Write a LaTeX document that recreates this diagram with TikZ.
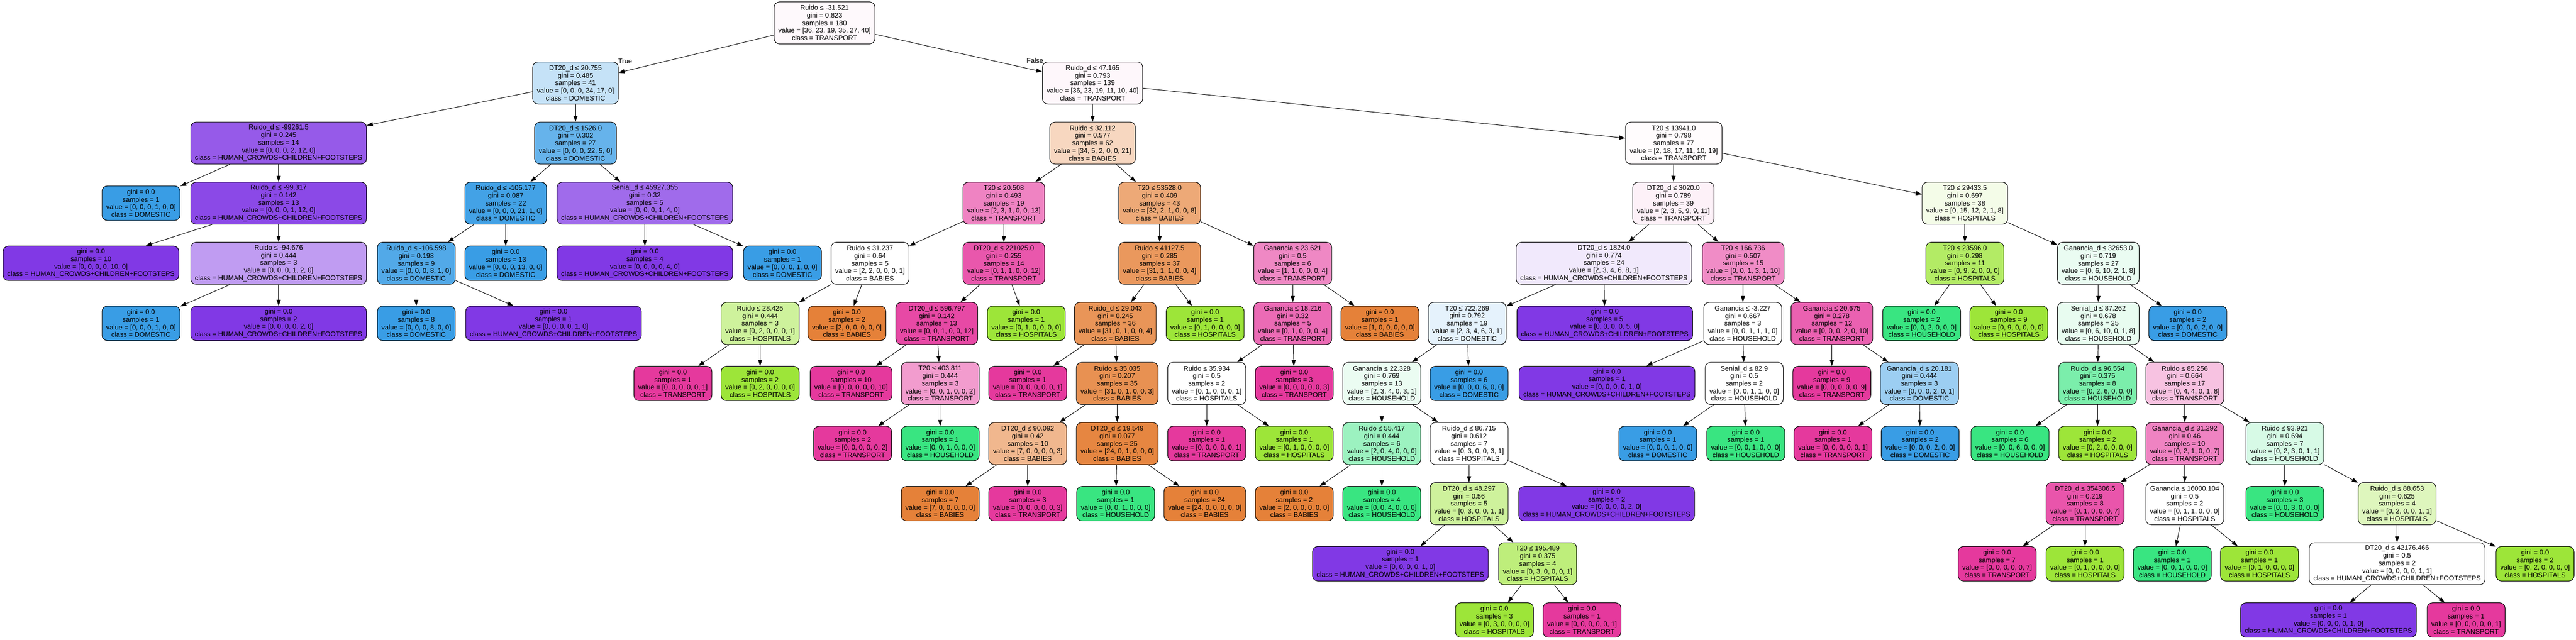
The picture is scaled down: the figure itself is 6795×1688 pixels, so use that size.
\documentclass[tikz,border=0pt]{standalone}
\usepackage{fontspec}
\setmainfont{Liberation Sans}
\usetikzlibrary{arrows.meta}
\definecolor{cBab}{HTML}{E58139}
\definecolor{cHos}{HTML}{9DE539}
\definecolor{cHou}{HTML}{39E581}
\definecolor{cDom}{HTML}{399DE5}
\definecolor{cHcf}{HTML}{8139E5}
\definecolor{cTra}{HTML}{E5399D}
\newcommand\clcBab{BABIES}
\newcommand\clcHos{HOSPITALS}
\newcommand\clcHou{HOUSEHOLD}
\newcommand\clcDom{DOMESTIC}
\newcommand\clcHcf{HUMAN\_CROWDS+CHILDREN+FOOTSTEPS}
\newcommand\clcTra{TRANSPORT}
\tikzset{
 tn/.style={draw=black, line width=1.4pt, rounded corners=14pt, align=center, inner xsep=11pt, inner ysep=0pt, minimum height=111pt, font=\fontsize{18}{20}\selectfont},
 lf/.style={minimum height=91pt},
 conn/.style={draw=black, line width=1.3pt, -{Triangle[length=16pt,width=11pt]}},
 lbl/.style={font=\fontsize{18}{20}\selectfont, inner sep=0pt}
}
\newcommand\inode[9]{\node[tn, fill=#8!#9!white] (#1) at (#2,#3) {#4\\gini = #5\\samples = #6\\value = [#7]\\class = \csname cl#8\endcsname};}
\newcommand\lnode[6]{\node[tn, lf, fill=#6] (#1) at (#2,#3) {gini = 0.0\\samples = #4\\value = [#5]\\class = \csname cl#6\endcsname};}
\begin{document}
\begin{tikzpicture}[x=1pt,y=-1pt]
\fill[white] (0,0) rectangle (6795,1688);
\useasboundingbox (0,0) rectangle (6795,1688);
% level 0
\inode{root}{2175}{60.5}{Ruido ≤ -31.521}{0.823}{180}{36, 23, 19, 35, 27, 40}{cTra}{2.8}
% level 1
\inode{A}{1518}{219.1}{DT20\_d ≤ 20.755}{0.485}{41}{0, 0, 0, 24, 17, 0}{cDom}{29.2}
\inode{B}{2882}{219.1}{Ruido\_d ≤ 47.165}{0.793}{139}{36, 23, 19, 11, 10, 40}{cTra}{3.9}
% level 2
\inode{A1}{735}{377.7}{Ruido\_d ≤ -99261.5}{0.245}{14}{0, 0, 0, 2, 12, 0}{cHcf}{83.3}
\inode{A2}{1518}{377.7}{DT20\_d ≤ 1526.0}{0.302}{27}{0, 0, 0, 22, 5, 0}{cDom}{77.3}
\inode{B1}{2882}{377.7}{Ruido ≤ 32.112}{0.577}{62}{34, 5, 2, 0, 0, 21}{cBab}{31.7}
\inode{B2}{4415}{377.7}{T20 ≤ 13941.0}{0.798}{77}{2, 18, 17, 11, 10, 19}{cTra}{1.7}
% level 3
\lnode{A1a}{372}{536.3}{1}{0, 0, 0, 1, 0, 0}{cDom}
\inode{A1b}{735}{536.3}{Ruido\_d ≤ -99.317}{0.142}{13}{0, 0, 0, 1, 12, 0}{cHcf}{91.7}
\inode{A2a}{1334}{536.3}{Ruido\_d ≤ -105.177}{0.087}{22}{0, 0, 0, 21, 1, 0}{cDom}{95.2}
\inode{A2b}{1701}{536.3}{Senial\_d ≤ 45927.355}{0.32}{5}{0, 0, 0, 1, 4, 0}{cHcf}{75}
\inode{B1a}{2648}{536.3}{T20 ≤ 20.508}{0.493}{19}{2, 3, 1, 0, 0, 13}{cTra}{62.5}
\inode{B1b}{3059}{536.3}{T20 ≤ 53528.0}{0.409}{43}{32, 2, 1, 0, 0, 8}{cBab}{68.6}
\inode{B2a}{4414}{536.3}{DT20\_d ≤ 3020.0}{0.789}{39}{2, 3, 5, 9, 9, 11}{cTra}{7.1}
\inode{B2b}{5183}{536.3}{T20 ≤ 29433.5}{0.697}{38}{0, 15, 12, 2, 1, 8}{cHos}{11.5}
% level 4
\lnode{n4a}{240}{694.9}{10}{0, 0, 0, 0, 10, 0}{cHcf}
\inode{n4b}{735}{694.9}{Ruido ≤ -94.676}{0.444}{3}{0, 0, 0, 1, 2, 0}{cHcf}{50}
\inode{n4c}{1098}{694.9}{Ruido\_d ≤ -106.598}{0.198}{9}{0, 0, 0, 8, 1, 0}{cDom}{87.5}
\lnode{n4d}{1334}{694.9}{13}{0, 0, 0, 13, 0, 0}{cDom}
\lnode{n4e}{1701}{694.9}{4}{0, 0, 0, 0, 4, 0}{cHcf}
\lnode{n4f}{2064}{694.9}{1}{0, 0, 0, 1, 0, 0}{cDom}
\inode{n4g}{2295}{694.9}{Ruido ≤ 31.237}{0.64}{5}{2, 2, 0, 0, 0, 1}{cBab}{0}
\inode{n4h}{2648}{694.9}{DT20\_d ≤ 221025.0}{0.255}{14}{0, 1, 1, 0, 0, 12}{cTra}{84.6}
\inode{n4i}{3059}{694.9}{Ruido ≤ 41127.5}{0.285}{37}{31, 1, 1, 0, 0, 4}{cBab}{81.8}
\inode{n4j}{3410}{694.9}{Ganancia ≤ 23.621}{0.5}{6}{1, 1, 0, 0, 0, 4}{cTra}{60}
\inode{n4k}{4231}{694.9}{DT20\_d ≤ 1824.0}{0.774}{24}{2, 3, 4, 6, 8, 1}{cHcf}{11.1}
\inode{n4l}{4598}{694.9}{T20 ≤ 166.736}{0.507}{15}{0, 0, 1, 3, 1, 10}{cTra}{58.3}
\inode{n4m}{5183}{694.9}{T20 ≤ 23596.0}{0.298}{11}{0, 9, 2, 0, 0, 0}{cHos}{77.8}
\inode{n4n}{5535}{694.9}{Ganancia\_d ≤ 32653.0}{0.719}{27}{0, 6, 10, 2, 1, 8}{cHou}{10.5}
% level 5
\lnode{n5a}{372}{853.5}{1}{0, 0, 0, 1, 0, 0}{cDom}
\lnode{n5b}{735}{853.5}{2}{0, 0, 0, 0, 2, 0}{cHcf}
\lnode{n5c}{1098}{853.5}{8}{0, 0, 0, 8, 0, 0}{cDom}
\lnode{n5d}{1460}{853.5}{1}{0, 0, 0, 0, 1, 0}{cHcf}
\inode{n5e}{2005}{853.5}{Ruido ≤ 28.425}{0.444}{3}{0, 2, 0, 0, 0, 1}{cHos}{50}
\lnode{n5f}{2234}{853.5}{2}{2, 0, 0, 0, 0, 0}{cBab}
\inode{n5g}{2471}{853.5}{DT20\_d ≤ 596.797}{0.142}{13}{0, 0, 1, 0, 0, 12}{cTra}{91.7}
\lnode{n5h}{2707}{853.5}{1}{0, 1, 0, 0, 0, 0}{cHos}
\inode{n5i}{2942}{853.5}{Ruido\_d ≤ 29.043}{0.245}{36}{31, 0, 1, 0, 0, 4}{cBab}{84.4}
\lnode{n5j}{3179}{853.5}{1}{0, 1, 0, 0, 0, 0}{cHos}
\inode{n5k}{3410}{853.5}{Ganancia ≤ 18.216}{0.32}{5}{0, 1, 0, 0, 0, 4}{cTra}{75}
\lnode{n5l}{3640}{853.5}{1}{1, 0, 0, 0, 0, 0}{cBab}
\inode{n5m}{3870}{853.5}{T20 ≤ 722.269}{0.792}{19}{2, 3, 4, 6, 3, 1}{cDom}{13.3}
\lnode{n5n}{4233}{853.5}{5}{0, 0, 0, 0, 5, 0}{cHcf}
\inode{n5o}{4597}{853.5}{Ganancia ≤ -3.227}{0.667}{3}{0, 0, 1, 1, 1, 0}{cHou}{0}
\inode{n5p}{4832}{853.5}{Ganancia ≤ 20.675}{0.278}{12}{0, 0, 0, 2, 0, 10}{cTra}{80}
\lnode{n5q}{5069}{853.5}{2}{0, 0, 2, 0, 0, 0}{cHou}
\lnode{n5r}{5299}{853.5}{9}{0, 9, 0, 0, 0, 0}{cHos}
\inode{n5s}{5535}{853.5}{Senial\_d ≤ 87.262}{0.678}{25}{0, 6, 10, 0, 1, 8}{cHou}{11.8}
\lnode{n5t}{5771}{853.5}{2}{0, 0, 0, 2, 0, 0}{cDom}
% level 6
\lnode{n6a}{1775}{1012.1}{1}{0, 0, 0, 0, 0, 1}{cTra}
\lnode{n6b}{2005}{1012.1}{2}{0, 2, 0, 0, 0, 0}{cHos}
\lnode{n6c}{2245}{1012.1}{10}{0, 0, 0, 0, 0, 10}{cTra}
\inode{n6d}{2480}{1012.1}{T20 ≤ 403.811}{0.444}{3}{0, 0, 1, 0, 0, 2}{cTra}{50}
\lnode{n6e}{2711}{1012.1}{1}{0, 0, 0, 0, 0, 1}{cTra}
\inode{n6f}{2947}{1012.1}{Ruido ≤ 35.035}{0.207}{35}{31, 0, 1, 0, 0, 3}{cBab}{87.5}
\inode{n6g}{3183}{1012.1}{Ruido ≤ 35.934}{0.5}{2}{0, 1, 0, 0, 0, 1}{cHos}{0}
\lnode{n6h}{3414}{1012.1}{3}{0, 0, 0, 0, 0, 3}{cTra}
\inode{n6i}{3645}{1012.1}{Ganancia ≤ 22.328}{0.769}{13}{2, 3, 4, 0, 3, 1}{cHou}{10}
\lnode{n6j}{3875}{1012.1}{6}{0, 0, 0, 6, 0, 0}{cDom}
\lnode{n6k}{4239}{1012.1}{1}{0, 0, 0, 0, 1, 0}{cHcf}
\inode{n6l}{4601}{1012.1}{Senial\_d ≤ 82.9}{0.5}{2}{0, 0, 1, 1, 0, 0}{cHou}{0}
\lnode{n6m}{4832}{1012.1}{9}{0, 0, 0, 0, 0, 9}{cTra}
\inode{n6n}{5063}{1012.1}{Ganancia\_d ≤ 20.181}{0.444}{3}{0, 0, 0, 2, 0, 1}{cDom}{50}
\inode{n6o}{5533}{1012.1}{Ruido\_d ≤ 96.554}{0.375}{8}{0, 2, 6, 0, 0, 0}{cHou}{66.7}
\inode{n6p}{5763}{1012.1}{Ruido ≤ 85.256}{0.664}{17}{0, 4, 4, 0, 1, 8}{cTra}{30.8}
% level 7
\lnode{n7a}{2249}{1170.7}{2}{0, 0, 0, 0, 0, 2}{cTra}
\lnode{n7b}{2480}{1170.7}{1}{0, 0, 1, 0, 0, 0}{cHou}
\inode{n7c}{2711}{1170.7}{DT20\_d ≤ 90.092}{0.42}{10}{7, 0, 0, 0, 0, 3}{cBab}{57.1}
\inode{n7d}{2947}{1170.7}{DT20\_d ≤ 19.549}{0.077}{25}{24, 0, 1, 0, 0, 0}{cBab}{95.8}
\lnode{n7e}{3183}{1170.7}{1}{0, 0, 0, 0, 0, 1}{cTra}
\lnode{n7f}{3414}{1170.7}{1}{0, 1, 0, 0, 0, 0}{cHos}
\inode{n7g}{3645}{1170.7}{Ruido ≤ 55.417}{0.444}{6}{2, 0, 4, 0, 0, 0}{cHou}{50}
\inode{n7h}{3875}{1170.7}{Ruido\_d ≤ 86.715}{0.612}{7}{0, 3, 0, 0, 3, 1}{cHos}{0}
\lnode{n7i}{4373}{1170.7}{1}{0, 0, 0, 1, 0, 0}{cDom}
\lnode{n7j}{4605}{1170.7}{1}{0, 0, 1, 0, 0, 0}{cHou}
\lnode{n7k}{4835}{1170.7}{1}{0, 0, 0, 0, 0, 1}{cTra}
\lnode{n7l}{5065}{1170.7}{2}{0, 0, 0, 2, 0, 0}{cDom}
\lnode{n7m}{5302}{1170.7}{6}{0, 0, 6, 0, 0, 0}{cHou}
\lnode{n7n}{5533}{1170.7}{2}{0, 2, 0, 0, 0, 0}{cHos}
\inode{n7o}{5763}{1170.7}{Ganancia\_d ≤ 31.292}{0.46}{10}{0, 2, 1, 0, 0, 7}{cTra}{62.5}
\inode{n7p}{6027}{1170.7}{Ruido ≤ 93.921}{0.694}{7}{0, 2, 3, 0, 1, 1}{cHou}{20}
% level 8
\lnode{n8a}{2480}{1329.3}{7}{7, 0, 0, 0, 0, 0}{cBab}
\lnode{n8b}{2711}{1329.3}{3}{0, 0, 0, 0, 0, 3}{cTra}
\lnode{n8c}{2943}{1329.3}{1}{0, 0, 1, 0, 0, 0}{cHou}
\lnode{n8d}{3178}{1329.3}{24}{24, 0, 0, 0, 0, 0}{cBab}
\lnode{n8e}{3414}{1329.3}{2}{2, 0, 0, 0, 0, 0}{cBab}
\lnode{n8f}{3645}{1329.3}{4}{0, 0, 4, 0, 0, 0}{cHou}
\inode{n8g}{3875}{1329.3}{DT20\_d ≤ 48.297}{0.56}{5}{0, 3, 0, 0, 1, 1}{cHos}{50}
\lnode{n8h}{4238}{1329.3}{2}{0, 0, 0, 0, 2, 0}{cHcf}
\inode{n8i}{5500}{1329.3}{DT20\_d ≤ 354306.5}{0.219}{8}{0, 1, 0, 0, 0, 7}{cTra}{85.7}
\inode{n8j}{5763}{1329.3}{Ganancia ≤ 16000.104}{0.5}{2}{0, 1, 1, 0, 0, 0}{cHos}{0}
\lnode{n8k}{6027}{1329.3}{3}{0, 0, 3, 0, 0, 0}{cHou}
\inode{n8l}{6323}{1329.3}{Ruido\_d ≤ 88.653}{0.625}{4}{0, 2, 0, 0, 1, 1}{cHos}{33.3}
% level 9
\lnode{n9a}{3694}{1487.9}{1}{0, 0, 0, 0, 1, 0}{cHcf}
\inode{n9b}{4056}{1487.9}{T20 ≤ 195.489}{0.375}{4}{0, 3, 0, 0, 0, 1}{cHos}{66.7}
\lnode{n9c}{5268}{1487.9}{7}{0, 0, 0, 0, 0, 7}{cTra}
\lnode{n9d}{5500}{1487.9}{1}{0, 1, 0, 0, 0, 0}{cHos}
\lnode{n9e}{5730}{1487.9}{1}{0, 0, 1, 0, 0, 0}{cHou}
\lnode{n9f}{5960}{1487.9}{1}{0, 1, 0, 0, 0, 0}{cHos}
\inode{n9g}{6323}{1487.9}{DT20\_d ≤ 42176.466}{0.5}{2}{0, 0, 0, 0, 1, 1}{cHcf}{0}
\lnode{n9h}{6687}{1487.9}{2}{0, 2, 0, 0, 0, 0}{cHos}
% level 10
\lnode{n10a}{3942}{1636.5}{3}{0, 3, 0, 0, 0, 0}{cHos}
\lnode{n10b}{4173}{1636.5}{1}{0, 0, 0, 0, 0, 1}{cTra}
\lnode{n10c}{6142}{1636.5}{1}{0, 0, 0, 0, 1, 0}{cHcf}
\lnode{n10d}{6505}{1636.5}{1}{0, 0, 0, 0, 0, 1}{cTra}
% edges
\foreach \p/\c in {root/A, root/B, A/A1, A/A2, B/B1, B/B2,
  A1/A1a, A1/A1b, A2/A2a, A2/A2b, B1/B1a, B1/B1b, B2/B2a, B2/B2b,
  A1b/n4a, A1b/n4b, A2a/n4c, A2a/n4d, A2b/n4e, A2b/n4f, B1a/n4g, B1a/n4h,
  B1b/n4i, B1b/n4j, B2a/n4k, B2a/n4l, B2b/n4m, B2b/n4n,
  n4b/n5a, n4b/n5b, n4c/n5c, n4c/n5d, n4g/n5e, n4g/n5f, n4h/n5g, n4h/n5h,
  n4i/n5i, n4i/n5j, n4j/n5k, n4j/n5l, n4k/n5m, n4k/n5n, n4l/n5o, n4l/n5p,
  n4m/n5q, n4m/n5r, n4n/n5s, n4n/n5t,
  n5e/n6a, n5e/n6b, n5g/n6c, n5g/n6d, n5i/n6e, n5i/n6f, n5k/n6g, n5k/n6h,
  n5m/n6i, n5m/n6j, n5o/n6k, n5o/n6l, n5p/n6m, n5p/n6n, n5s/n6o, n5s/n6p,
  n6d/n7a, n6d/n7b, n6f/n7c, n6f/n7d, n6g/n7e, n6g/n7f, n6i/n7g, n6i/n7h,
  n6l/n7i, n6l/n7j, n6n/n7k, n6n/n7l, n6o/n7m, n6o/n7n, n6p/n7o, n6p/n7p,
  n7c/n8a, n7c/n8b, n7d/n8c, n7d/n8d, n7g/n8e, n7g/n8f, n7h/n8g, n7h/n8h,
  n7o/n8i, n7o/n8j, n7p/n8k, n7p/n8l,
  n8g/n9a, n8g/n9b, n8i/n9c, n8i/n9d, n8j/n9e, n8j/n9f, n8l/n9g, n8l/n9h,
  n9b/n10a, n9b/n10b, n9g/n10c, n9g/n10d}
  \draw[conn] (\p) -- (\c);
\node[lbl] (tTrue) at (1649,162) {True};
\node[lbl] (tFalse) at (2730,160) {False};
\end{tikzpicture}
\end{document}
